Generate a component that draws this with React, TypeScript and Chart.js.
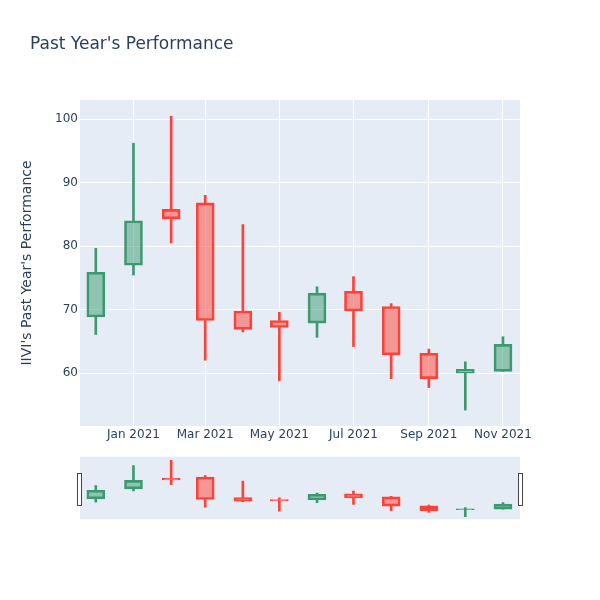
import React, { useEffect, useRef } from 'react';
import { Chart, registerables } from 'chart.js';

Chart.register(...registerables);

// ---- Data (monthly candles) ----
const months = [
  '2020-12-01', '2021-01-01', '2021-02-01', '2021-03-01', '2021-04-01', '2021-05-01',
  '2021-06-01', '2021-07-01', '2021-08-01', '2021-09-01', '2021-10-01', '2021-11-01',
];
const openValues = [68.85, 77.0, 85.8, 86.8, 69.8, 68.3, 67.9, 72.9, 70.5, 63.15, 60.0, 60.3];
const closeValues = [75.9, 84.0, 84.3, 68.3, 66.9, 67.2, 72.6, 69.8, 62.9, 59.15, 60.6, 64.55];
const highValues = [79.65, 96.2, 100.45, 88.0, 83.4, 69.6, 73.6, 75.2, 70.95, 63.8, 61.8, 65.75];
const lowValues = [66.1, 75.45, 80.5, 62.05, 66.5, 58.8, 65.65, 64.2, 59.15, 57.75, 54.2, 60.3];

const tickDates = ['2021-01-01', '2021-03-01', '2021-05-01', '2021-07-01', '2021-09-01', '2021-11-01'];
const tickLabels = ['Jan 2021', 'Mar 2021', 'May 2021', 'Jul 2021', 'Sep 2021', 'Nov 2021'];
const yTicks = [60, 70, 80, 90, 100];
const xRange = ['2020-11-18', '2021-11-15'];
const yRange = [51.7, 103];
const sliderYRange = [52.1, 103.4];

const titleText = "Past Year's Performance";
const yTitleText = "IIVI's Past Year's Performance";

// ---- Styles ----
const INC_LINE = '#3D9970';
const INC_FILL = 'rgba(61,153,112,0.5)';
const DEC_LINE = '#FF4136';
const DEC_FILL = 'rgba(255,65,54,0.5)';
const PLOT_BG = '#E5ECF6';
const TEXT = '#2a3f5f';
const FONT = "'DejaVu Sans', sans-serif";

function toDay(s: string): number {
  return Date.UTC(+s.slice(0, 4), +s.slice(5, 7) - 1, +s.slice(8, 10)) / 86400000;
}

function buildDatasets(): any[] {
  const xs = months.map(toDay);
  const up = openValues.map((o, i) => closeValues[i] >= o);
  const lineColors = up.map((u) => (u ? INC_LINE : DEC_LINE));
  const fillColors = up.map((u) => (u ? INC_FILL : DEC_FILL));
  return [
    {
      label: 'body',
      data: xs.map((x, i) => ({ x, y: [openValues[i], closeValues[i]] })),
      backgroundColor: fillColors,
      borderColor: lineColors,
      borderWidth: 2,
      borderSkipped: false,
      barThickness: 18,
      maxBarThickness: 18,
      grouped: false,
      order: 0,
    },
    {
      label: 'upper',
      data: xs.map((x, i) => ({ x, y: [Math.max(openValues[i], closeValues[i]), highValues[i]] })),
      backgroundColor: lineColors,
      borderWidth: 0,
      barThickness: 2,
      maxBarThickness: 2,
      grouped: false,
      order: 1,
    },
    {
      label: 'lower',
      data: xs.map((x, i) => ({ x, y: [lowValues[i], Math.min(openValues[i], closeValues[i])] })),
      backgroundColor: lineColors,
      borderWidth: 0,
      barThickness: 2,
      maxBarThickness: 2,
      grouped: false,
      order: 2,
    },
  ];
}

const bgPlugin = {
  id: 'plotBg',
  beforeDraw(chart: any) {
    const { ctx, chartArea } = chart;
    if (!chartArea) return;
    ctx.save();
    ctx.fillStyle = PLOT_BG;
    ctx.fillRect(chartArea.left, chartArea.top, chartArea.right - chartArea.left, chartArea.bottom - chartArea.top);
    ctx.restore();
  },
};

const handlesPlugin = {
  id: 'sliderHandles',
  afterDraw(chart: any) {
    const { ctx, chartArea } = chart;
    const mid = (chartArea.top + chartArea.bottom) / 2 + 1.3;
    const h = 32;
    ctx.save();
    ctx.fillStyle = '#ffffff';
    ctx.strokeStyle = '#444444';
    ctx.lineWidth = 1;
    [Math.round(chartArea.left) - 2.5, Math.round(chartArea.right) - 1.5].forEach((x) => {
      ctx.fillRect(x, Math.round(mid - h / 2) + 0.5, 4, h);
      ctx.strokeRect(x, Math.round(mid - h / 2) + 0.5, 4, h);
    });
    ctx.restore();
  },
};

export default function App() {
  const mainRef = useRef<HTMLCanvasElement | null>(null);
  const sliderRef = useRef<HTMLCanvasElement | null>(null);

  useEffect(() => {
    const xMin = toDay(xRange[0]);
    const xMax = toDay(xRange[1]);
    const tickDays = tickDates.map(toDay);

    const main = new Chart(mainRef.current as HTMLCanvasElement, {
      type: 'bar',
      data: { datasets: buildDatasets() },
      plugins: [bgPlugin],
      options: {
        responsive: false,
        animation: false,
        events: [],
        layout: { padding: { left: 8, right: 80, top: 100, bottom: 0 } },
        plugins: { legend: { display: false }, tooltip: { enabled: false }, title: { display: false } },
        scales: {
          x: {
            type: 'linear',
            min: xMin,
            max: xMax,
            offset: false,
            grid: { color: '#ffffff', lineWidth: 1, offset: false, drawTicks: false },
            border: { display: false },
            afterBuildTicks: (s: any) => {
              s.ticks = tickDays.map((v) => ({ value: v }));
            },
            afterFit: (s: any) => {
              s.height = 174;
            },
            ticks: {
              autoSkip: false,
              maxRotation: 0,
              padding: 2,
              color: TEXT,
              font: { family: FONT, size: 12 },
              callback: (v: any) => {
                const i = tickDays.indexOf(Number(v));
                return i >= 0 ? tickLabels[i] : '';
              },
            },
          },
          y: {
            type: 'linear',
            min: yRange[0],
            max: yRange[1],
            grid: { color: '#ffffff', lineWidth: 1, drawTicks: false },
            border: { display: false },
            afterBuildTicks: (s: any) => {
              s.ticks = yTicks.map((v) => ({ value: v }));
            },
            afterFit: (s: any) => {
              s.width = 72;
            },
            ticks: {
              padding: 2,
              color: TEXT,
              font: { family: FONT, size: 12 },
            },
            title: {
              display: true,
              text: yTitleText,
              color: TEXT,
              font: { family: FONT, size: 14, weight: 'normal' },
              padding: { top: 10.5, bottom: 0 },
            },
          },
        },
      } as any,
    });

    const slider = new Chart(sliderRef.current as HTMLCanvasElement, {
      type: 'bar',
      data: { datasets: buildDatasets() },
      plugins: [bgPlugin, handlesPlugin],
      options: {
        responsive: false,
        animation: false,
        events: [],
        layout: { padding: { left: 80, right: 80, top: 16.7, bottom: 20.7 } },
        plugins: { legend: { display: false }, tooltip: { enabled: false }, title: { display: false } },
        scales: {
          x: { type: 'linear', min: xMin, max: xMax, offset: false, display: false },
          y: { type: 'linear', min: sliderYRange[0], max: sliderYRange[1], display: false },
        },
      } as any,
    });

    return () => {
      main.destroy();
      slider.destroy();
    };
  }, []);

  return (
    <div style={{ position: 'fixed', left: 0, top: 0, width: 600, height: 600, background: '#ffffff', overflow: 'hidden' }}>
      <canvas ref={mainRef} width={600} height={600} style={{ position: 'absolute', left: 0, top: 0 }} />
      <canvas ref={sliderRef} width={600} height={100} style={{ position: 'absolute', left: 0, top: 440 }} />
      <div
        style={{
          position: 'absolute',
          left: 30,
          top: 35,
          fontFamily: FONT,
          fontSize: 17,
          lineHeight: '17px',
          color: TEXT,
          whiteSpace: 'nowrap',
        }}
      >
        {titleText}
      </div>
    </div>
  );
}
